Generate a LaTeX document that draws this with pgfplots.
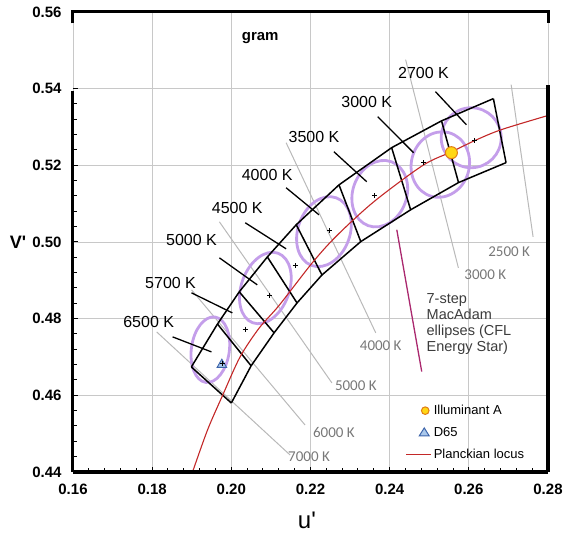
\documentclass[border=0pt]{standalone}
\usepackage{fontspec}
\setmainfont{Liberation Sans}
\newfontfamily\calib{Carlito}
\newfontfamily\plainsans{Liberation Sans}
\usepackage{pgfplots}
\usepackage{pgfplotstable}
\pgfplotsset{compat=1.18}

\definecolor{lav}{RGB}{196,158,234}
\definecolor{locred}{RGB}{195,40,40}
\definecolor{isogrey}{RGB}{185,185,185}
\definecolor{gridgrey}{RGB}{200,200,200}
\definecolor{lblgrey}{RGB}{120,120,120}
\definecolor{magline}{RGB}{170,40,110}
\definecolor{txtgrey}{RGB}{60,60,60}
\definecolor{aedge}{RGB}{225,125,20}
\definecolor{afill}{RGB}{255,215,20}
\definecolor{dedge}{RGB}{60,100,170}
\definecolor{dfill}{RGB}{170,200,235}

\pgfdeclareplotmark{ell}{%
  \pgfpathellipse{\pgfpointorigin}{\pgfpoint{\ellA pt}{0pt}}{\pgfpoint{0pt}{\ellB pt}}%
  \pgfusepathqstroke}

% Planckian locus (u', v')
\pgfplotstableread{
u v
0.1902 0.4400
0.1940 0.4510
0.1978 0.4600
0.2022 0.4700
0.2070 0.4775
0.2121 0.4835
0.2204 0.4945
0.2265 0.5015
0.2360 0.5105
0.2484 0.5200
0.2556 0.5235
0.2616 0.5265
0.2682 0.5293
0.2800 0.5330
}\locustab

% quadrangle band: upper and lower edges
\pgfplotstableread{
u v
0.1899 0.4674
0.1965 0.4786
0.2020 0.4870
0.2091 0.4961
0.2164 0.5045
0.2272 0.5149
0.2405 0.5246
0.2531 0.5316
0.2662 0.5374
}\quadupper
\pgfplotstableread{
u v
0.2000 0.4580
0.2050 0.4677
0.2108 0.4763
0.2166 0.4841
0.2229 0.4914
0.2327 0.5001
0.2453 0.5084
0.2574 0.5155
0.2694 0.5207
}\quadlower
% cross lines between quadrangles
\pgfplotstableread{
u v
0.1899 0.4674
0.2000 0.4580
nan nan
0.1965 0.4786
0.2050 0.4677
nan nan
0.2020 0.4870
0.2108 0.4763
nan nan
0.2091 0.4961
0.2166 0.4841
nan nan
0.2164 0.5045
0.2229 0.4914
nan nan
0.2272 0.5149
0.2327 0.5001
nan nan
0.2405 0.5246
0.2453 0.5084
nan nan
0.2531 0.5316
0.2574 0.5155
nan nan
0.2662 0.5374
0.2694 0.5207
}\quadcross

% quadrangle centres
\pgfplotstableread{
u v
0.1978 0.4683
0.2035 0.4773
0.2096 0.4860
0.2161 0.4938
0.2247 0.5029
0.2362 0.5121
0.2486 0.5207
0.2614 0.5264
}\quadcentres

% MacAdam ellipses: centre, semi-axes (pt), rotation (deg)
\pgfplotstableread{
u v a b rot
0.1947 0.4719 19 33 -8
0.2086 0.4880 24 37 -20
0.2234 0.5027 26 36 -20
0.2375 0.5126 27 34 -20
0.2528 0.5202 29 33 -15
0.2606 0.5272 30 30 0
}\macadamtab

% grey isotemperature lines
\pgfplotstableread{
u v
0.27069 0.54104
0.27623 0.50136
nan nan
0.24403 0.54757
0.25736 0.49326
nan nan
0.21384 0.52590
0.23648 0.47629
nan nan
0.19698 0.50527
0.22541 0.46324
nan nan
0.18994 0.48752
0.21862 0.45227
nan nan
0.18113 0.47655
0.21484 0.44444
}\isotab

% black leader lines
\pgfplotstableread{
u v
0.18516 0.47525
0.19497 0.47133
nan nan
0.18994 0.48674
0.20025 0.48151
nan nan
0.19698 0.49587
0.20654 0.48883
nan nan
0.20352 0.50501
0.21384 0.49822
nan nan
0.21384 0.51415
0.22214 0.50710
nan nan
0.22591 0.52355
0.23421 0.51572
nan nan
0.23698 0.53269
0.24604 0.52329
nan nan
0.25157 0.53922
0.25937 0.53060
}\leadtab

\begin{document}
\begin{tikzpicture}
\begin{axis}[
  scale only axis, width=475pt, height=460pt,
  xmin=0.16, xmax=0.28, ymin=0.44, ymax=0.56,
  xtick={0.16,0.18,0.20,0.22,0.24,0.26,0.28},
  ytick={0.44,0.46,0.48,0.50,0.52,0.54},
  extra y ticks={0.56},
  extra y tick style={major tick length=0pt, grid=none},
  minor x tick num=4, minor y tick num=4,
  tick pos=left,
  tick align=inside,
  major tick length=5pt, minor tick length=4pt,
  every tick/.style={black, line width=1pt},
  grid=major, major grid style={gridgrey, line width=0.8pt},
  axis line style={draw=none},
  /pgf/number format/.cd, fixed, fixed zerofill, precision=2, assume math mode=true,
  /pgfplots/.cd,
  ticklabel style={font=\bfseries\fontsize{15}{18}\selectfont},
  xticklabel style={yshift=-8pt},
  yticklabel style={xshift=-8pt},
  clip mode=individual,
  unbounded coords=jump,
  legend style={draw=none, fill=none, at={(0.700,0.150)}, anchor=north west,
    font=\fontsize{13}{15}\selectfont, row sep=7pt, inner sep=0pt,
    cells={anchor=west}},
]
% grey isotemperature lines
\addplot[isogrey, line width=1pt, forget plot] table[x=u,y=v] {\isotab};
% MacAdam ellipses
\addplot[only marks, mark=ell, scatter, forget plot,
  mark options={draw=lav, line width=2.8pt},
  visualization depends on={\thisrow{a} \as \ellA},
  visualization depends on={\thisrow{b} \as \ellB},
  visualization depends on={\thisrow{rot} \as \ellR},
  scatter/@pre marker code/.code={\pgfscope\pgftransformrotate{\ellR}},
  scatter/@post marker code/.code={\endpgfscope}]
  table[x=u,y=v] {\macadamtab};
% quadrangles
\addplot[black, line width=1.5pt, forget plot] table[x=u,y=v] {\quadupper};
\addplot[black, line width=1.5pt, forget plot] table[x=u,y=v] {\quadlower};
\addplot[black, line width=1.5pt, forget plot] table[x=u,y=v] {\quadcross};
% Planckian locus
\addplot[locred, line width=1.1pt, smooth, forget plot] table[x=u,y=v] {\locustab};
% leader lines
\addplot[black, line width=1.3pt, forget plot] table[x=u,y=v] {\leadtab};
\addplot[magline, line width=1.3pt, forget plot] coordinates {(0.2418,0.5032) (0.2481,0.4662)};
% markers
\addplot[only marks, mark=*, mark size=6pt, forget plot,
  mark options={draw=aedge, fill=afill, line width=1pt}] coordinates {(0.2556,0.5233)};
\addplot[only marks, mark=triangle*, mark size=5.5pt, forget plot,
  mark options={draw=dedge, fill=dfill, line width=0.9pt}] coordinates {(0.1976,0.4680)};
\addplot[only marks, mark=+, mark size=2.5pt, black, line width=0.9pt, forget plot] table[x=u,y=v] {\quadcentres};

% legend
\addlegendimage{legend image code/.code={\draw[draw=aedge, fill=afill, line width=1pt] (19pt,0pt) circle (3.8pt);}}
\addlegendentry{Illuminant A}
\addlegendimage{legend image code/.code={\draw[draw=dedge, fill=dfill, line width=1pt] (13pt,-3.5pt) -- (23pt,-3.5pt) -- (18pt,4.5pt) -- cycle;}}
\addlegendentry{D65}
\addlegendimage{legend image code/.code={\draw[locred, line width=1.1pt] (0pt,0pt) -- (25pt,0pt);}}
\addlegendentry{Planckian locus}

% frame
\draw[line width=4.5pt] (rel axis cs:0,0) -- (rel axis cs:1,0);
\draw[line width=3pt] (rel axis cs:0,0) -- (axis cs:0.16,0.5395);
\draw[line width=3.5pt] (rel axis cs:1,0) -- (axis cs:0.28,0.541);
\draw[line width=3pt] (axis cs:0.16,0.557) -- (axis cs:0.16,0.56) -- (axis cs:0.28,0.56) -- (axis cs:0.28,0.557);

% black CCT labels
\begin{scope}[every node/.style={font=\fontsize{16}{18}\selectfont, inner sep=0pt}]
\node at (axis cs:0.24855,0.54418) {2700 K};
\node at (axis cs:0.23421,0.53661) {3000 K};
\node at (axis cs:0.22088,0.52747) {3500 K};
\node at (axis cs:0.20906,0.51755) {4000 K};
\node at (axis cs:0.20151,0.50893) {4500 K};
\node at (axis cs:0.18994,0.50057) {5000 K};
\node at (axis cs:0.18465,0.48935) {5700 K};
\node at (axis cs:0.17912,0.47916) {6500 K};
\end{scope}
% grey isotemperature labels
\begin{scope}[every node/.style={font=\calib\fontsize{15}{17}\selectfont, text=lblgrey, inner sep=0pt}]
\node at (axis cs:0.27019,0.49744) {2500 K};
\node at (axis cs:0.26415,0.49144) {3000 K};
\node at (axis cs:0.23774,0.47290) {4000 K};
\node at (axis cs:0.23145,0.46245) {5000 K};
\node at (axis cs:0.22591,0.45018) {6000 K};
\node at (axis cs:0.21962,0.44392) {7000 K};
\end{scope}
\node[anchor=north west, align=left, text=txtgrey, font=\fontsize{14.5}{16}\selectfont, inner sep=0pt]
  at (axis cs:0.2493,0.4867) {7-step\\MacAdam\\ellipses (CFL\\Energy Star)};
\node[font=\bfseries\fontsize{15}{18}\selectfont] at (axis cs:0.2073,0.5533) {gram};
\node[font=\plainsans\bfseries\fontsize{18}{20}\selectfont] at ([xshift=-55pt]axis cs:0.16,0.50) {V'};
\node[font=\plainsans\fontsize{24}{26}\selectfont] at ([yshift=-48pt]axis cs:0.2191,0.44) {u'};

\coordinate (LL) at (rel axis cs:0,0);
\coordinate (UR) at (rel axis cs:1,1);
\end{axis}
\pgfresetboundingbox
\path[use as bounding box] ([shift={(-73pt,-62pt)}]LL) rectangle ([shift={(15pt,12pt)}]UR);
\end{tikzpicture}
\end{document}
